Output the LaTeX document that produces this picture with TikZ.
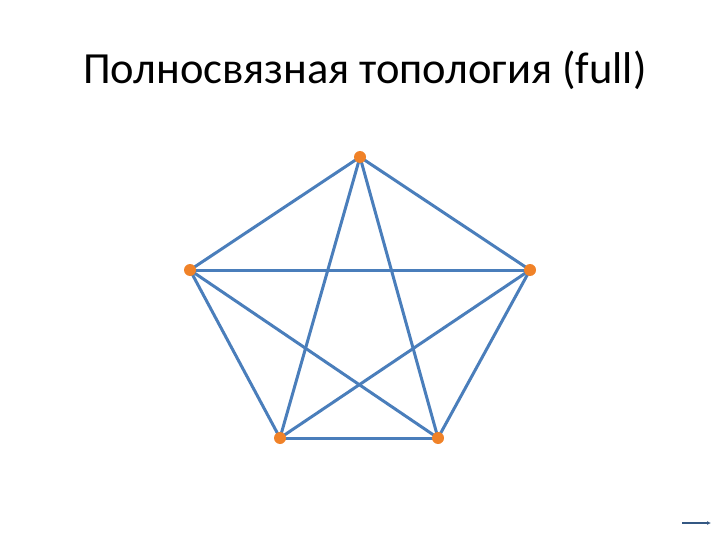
\documentclass[tikz,border=0pt]{standalone}
\usepackage{fontspec}
\setmainfont{Carlito}
\usepackage{tikz}
\usetikzlibrary{positioning,arrows.meta,backgrounds}

\definecolor{linkblue}{RGB}{74,126,187}
\definecolor{dotorange}{RGB}{240,130,40}

\begin{document}
\begin{tikzpicture}[x=1pt,y=-1pt]
\tikzset{vertex/.style={circle,fill=dotorange,inner sep=0pt,minimum size=12pt},
link/.style={linkblue,line width=3pt}}
\useasboundingbox (0,0) rectangle (720,540);
\node (title) at (365,70) {\fontsize{44.5}{52}\selectfont Полносвязная топология (full)};
\node [vertex] (top) at (360,157) {};
\node [vertex] (left) at (190,270) {};
\node [vertex] (right) at (530,270) {};
\node [vertex] (botl) at (280,438) {};
\node [vertex] (botr) at (438,438) {};
\begin{scope}[on background layer]
\draw [link] (top.center) -- (left.center);
\draw [link] (top.center) -- (right.center);
\draw [link] (top.center) -- (botl.center);
\draw [link] (top.center) -- (botr.center);
\draw [link] (left.center) -- (right.center);
\draw [link] (left.center) -- (botl.center);
\draw [link] (left.center) -- (botr.center);
\draw [link] (right.center) -- (botl.center);
\draw [link] (right.center) -- (botr.center);
\draw [link] (botl.center) -- (botr.center);
\end{scope}
\coordinate (navstart) at (682,523);
\coordinate (navend) at (711,523);
\draw [-{Latex[length=4pt,width=4pt]},line width=1.2pt,linkblue!70!black] (navstart) -- (navend);
\end{tikzpicture}
\end{document}
